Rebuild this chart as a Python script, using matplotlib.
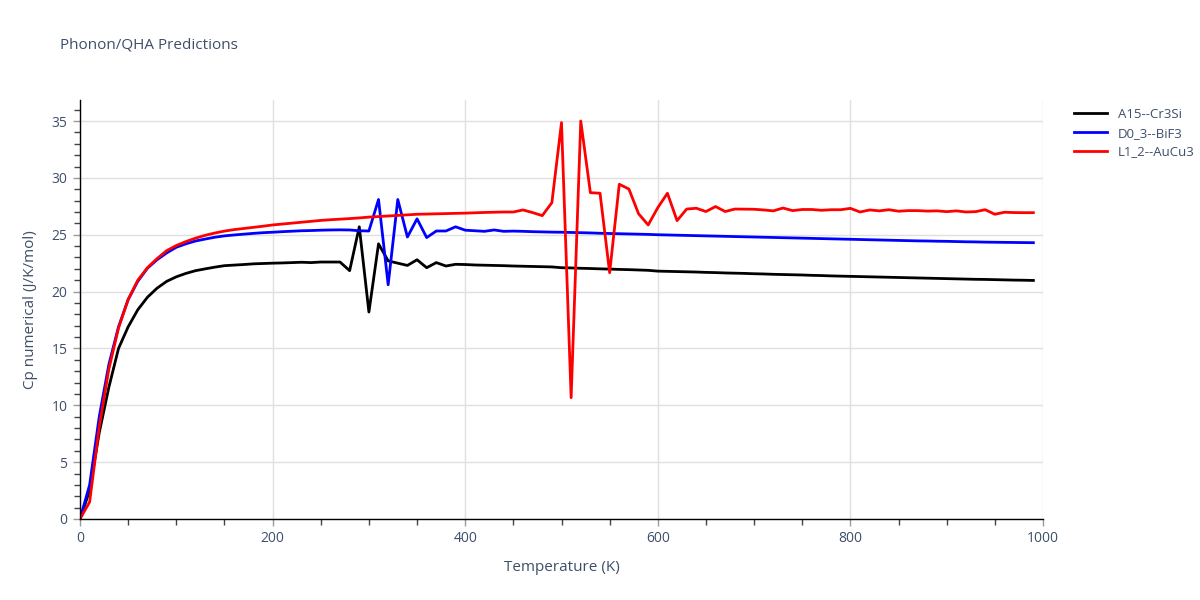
import numpy as np
import matplotlib.pyplot as plt
from matplotlib.ticker import MultipleLocator

plt.rcParams['font.family'] = ['Open Sans', 'DejaVu Sans']

# Temperature grid (K), every 10 K
temperature = list(range(0, 1000, 10))

# A15--Cr3Si
cp_a15 = [
    0.0, 2.5, 7.6, 11.6, 15.0, 16.9, 18.4, 19.5, 20.3, 20.9,
    21.3, 21.6, 21.84, 22.0, 22.15, 22.28, 22.33, 22.38, 22.44, 22.47,
    22.5, 22.52, 22.55, 22.58, 22.55, 22.6, 22.6, 22.6, 21.84, 25.7,
    18.2, 24.2, 22.7, 22.5, 22.3, 22.8, 22.1, 22.55, 22.25, 22.4,
    22.38, 22.34, 22.32, 22.3, 22.28, 22.25, 22.23, 22.21, 22.19, 22.17,
    22.1, 22.08, 22.05, 22.03, 22.0, 21.98, 21.95, 21.93, 21.9, 21.87,
    21.8, 21.78, 21.76, 21.74, 21.72, 21.69, 21.67, 21.64, 21.62, 21.6,
    21.57, 21.55, 21.52, 21.5, 21.48, 21.46, 21.43, 21.41, 21.38, 21.36,
    21.34, 21.32, 21.3, 21.28, 21.26, 21.24, 21.22, 21.2, 21.18, 21.16,
    21.14, 21.12, 21.1, 21.08, 21.07, 21.05, 21.03, 21.01, 21.0, 20.98,
]

# D0_3--BiF3
cp_d03 = [
    0.0, 3.0, 9.0, 13.6, 16.9, 19.3, 20.9, 22.05, 22.8, 23.4,
    23.9, 24.2, 24.45, 24.62, 24.78, 24.9, 24.98, 25.05, 25.12, 25.18,
    25.22, 25.27, 25.31, 25.35, 25.37, 25.4, 25.42, 25.43, 25.42, 25.35,
    25.33, 28.1, 20.6, 28.1, 24.8, 26.4, 24.75, 25.33, 25.33, 25.7,
    25.4, 25.35, 25.3, 25.42, 25.3, 25.32, 25.3, 25.27, 25.25, 25.23,
    25.22, 25.2, 25.18, 25.16, 25.13, 25.11, 25.09, 25.07, 25.05, 25.03,
    25.0, 24.98, 24.96, 24.94, 24.92, 24.9, 24.88, 24.86, 24.84, 24.82,
    24.8, 24.78, 24.76, 24.74, 24.72, 24.7, 24.68, 24.66, 24.64, 24.62,
    24.6, 24.58, 24.56, 24.54, 24.52, 24.5, 24.48, 24.46, 24.45, 24.43,
    24.42, 24.4, 24.38, 24.37, 24.35, 24.34, 24.33, 24.32, 24.31, 24.3,
]

# L1_2--AuCu3
cp_l12 = [
    0.0, 1.5, 8.1, 13.2, 16.8, 19.3, 21.0, 22.1, 22.9, 23.6,
    24.05, 24.4, 24.7, 24.95, 25.15, 25.32, 25.45, 25.55, 25.65, 25.75,
    25.86, 25.94, 26.02, 26.1, 26.18, 26.26, 26.32, 26.37, 26.42, 26.48,
    26.55, 26.6, 26.65, 26.7, 26.75, 26.8, 26.82, 26.84, 26.86, 26.88,
    26.9, 26.93, 26.96, 26.98, 27.0, 27.0, 27.18, 26.95, 26.68, 27.82,
    34.86, 10.67, 35.0, 28.7, 28.65, 21.66, 29.44, 29.02, 26.85, 25.86,
    27.38, 28.65, 26.24, 27.26, 27.33, 27.04, 27.48, 27.04, 27.26, 27.25,
    27.24, 27.18, 27.1, 27.35, 27.12, 27.22, 27.22, 27.15, 27.2, 27.2,
    27.32, 27.0, 27.18, 27.1, 27.2, 27.07, 27.12, 27.12, 27.08, 27.1,
    27.03, 27.1, 27.0, 27.03, 27.2, 26.8, 26.98, 26.95, 26.94, 26.94,
]

series = [
    ('A15--Cr3Si', cp_a15, 'black'),
    ('D0_3--BiF3', cp_d03, 'blue'),
    ('L1_2--AuCu3', cp_l12, 'red'),
]

text_color = '#3d4f6a'

fig = plt.figure(figsize=(12, 6), dpi=100)
ax = fig.add_axes([80 / 1200, 1 - 519 / 600, 963 / 1200, 419 / 600])

for name, values, color in series:
    ax.plot(temperature, values, color=color, lw=2, label=name)

ax.set_xlim(0, 1000)
ax.set_ylim(0, 36.85)
ax.xaxis.set_major_locator(MultipleLocator(200))
ax.xaxis.set_minor_locator(MultipleLocator(50))
ax.yaxis.set_major_locator(MultipleLocator(5))
ax.yaxis.set_minor_locator(MultipleLocator(1))
ax.grid(True, which='major', color='#e0e0e0', lw=1)
ax.set_axisbelow(True)

for side in ['top', 'right']:
    ax.spines[side].set_visible(False)
for side in ['left', 'bottom']:
    ax.spines[side].set_color('black')
    ax.spines[side].set_linewidth(1)

ax.tick_params(which='major', length=5, width=1, color='#999999',
               labelcolor=text_color, labelsize=10, pad=4)
ax.tick_params(which='minor', length=4, width=1, color='#444444')

ax.set_xlabel('Temperature (K)', color=text_color, fontsize=11, labelpad=10)
ax.set_ylabel('Cp numerical (J/K/mol)', color=text_color, fontsize=11, labelpad=10)

fig.text(60 / 1200, 1 - 45 / 600, 'Phonon/QHA Predictions', color=text_color,
         fontsize=11, va='center', ha='left')

leg = ax.legend(loc='upper left', bbox_to_anchor=(1.02, 1.01), frameon=False,
                fontsize=9.5, handlelength=2.5, labelspacing=0.45)
for t in leg.get_texts():
    t.set_color(text_color)

fig.savefig('out.png', dpi=100)
